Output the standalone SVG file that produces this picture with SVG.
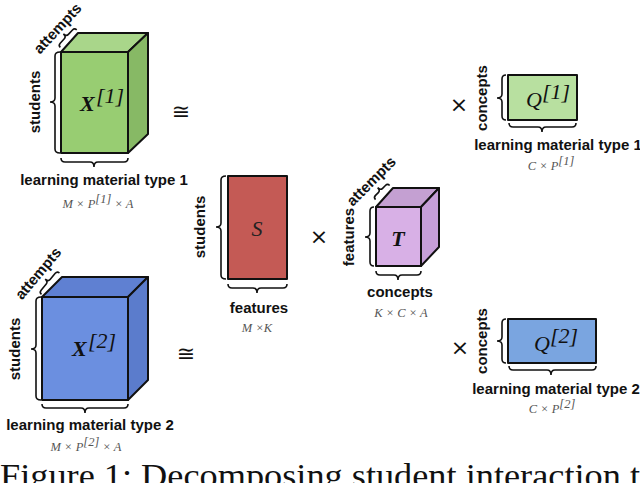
<svg xmlns="http://www.w3.org/2000/svg" width="640" height="483" viewBox="0 0 640 483">
<style>
.e{stroke:#111;stroke-width:2;stroke-linejoin:round}
.br{fill:none;stroke:#111;stroke-width:1.6}
.lb{font-family:"Liberation Sans",Arial,sans-serif;font-weight:bold;font-size:15px;fill:#111}
.fm{font-family:"Liberation Serif","Times New Roman",serif;font-style:italic;font-size:12.5px;fill:#555}
.big{font-family:"Liberation Serif","Times New Roman",serif;font-style:italic;font-size:22px;fill:#111}
.op{font-family:"DejaVu Sans",sans-serif;font-size:22px;fill:#111}
</style>
<rect width="640" height="483" fill="#fff"/>
<g id="X1">
<polygon class="e" points="61,52 78,33 148,33 128,52" fill="#a9d68a"/>
<polygon class="e" points="128,52 148,33 148,134 128,153" fill="#87b965"/>
<rect class="e" x="61" y="52" width="67" height="101" fill="#98cd72"/>
<text class="big" x="80" y="111" font-weight="bold">X</text><text class="big" x="96" y="103">[1]</text>
<path class="br" d="M60,52 Q55,52 55,56 L55,98 Q55,102 50,102 Q55,102 55,106 L55,149 Q55,153 60,153"/>
<text class="lb" transform="translate(40,102) rotate(-90)" text-anchor="middle">students</text>
<path class="br" d="M61,158 Q61,162 65,162 L90,162 Q94,162 94,167 Q94,162 98,162 L124,162 Q128,162 128,158"/>
<text class="lb" x="104" y="185" text-anchor="middle">learning material type  1</text>
<text class="fm" x="98" y="208" text-anchor="middle">M × P<tspan dy="-5">[1]</tspan><tspan dy="5"> × A</tspan></text>
<g transform="translate(70,40) rotate(-47)"><path class="br" d="M-12,-2 Q-12,-5 -9,-5 L-3,-5 Q0,-5 0,-9 Q0,-5 3,-5 L9,-5 Q12,-5 12,-2"/>
<text class="lb" x="0" y="-12" text-anchor="middle" font-size="13">attempts</text></g>
</g>
<g id="X2">
<polygon class="e" points="42,297 62,277 148,277 128,297" fill="#5f80d2"/>
<polygon class="e" points="128,297 148,277 148,380 128,400" fill="#5b7ccc"/>
<rect class="e" x="42" y="297" width="86" height="103" fill="#6b8fe0"/>
<text class="big" x="72" y="356" font-weight="bold">X</text><text class="big" x="88" y="348">[2]</text>
<path class="br" d="M41,297 Q36,297 36,301 L36,345 Q36,349 31,349 Q36,349 36,353 L36,396 Q36,400 41,400"/>
<text class="lb" transform="translate(20,349) rotate(-90)" text-anchor="middle">students</text>
<path class="br" d="M42,404 Q42,408 46,408 L81,408 Q85,408 85,413 Q85,408 89,408 L124,408 Q128,408 128,404"/>
<text class="lb" x="90" y="430" text-anchor="middle">learning material type  2</text>
<text class="fm" x="86" y="451" text-anchor="middle">M × P<tspan dy="-5">[2]</tspan><tspan dy="5"> × A</tspan></text>
<g transform="translate(52,285) rotate(-50)"><path class="br" d="M-14,-2 Q-14,-5 -11,-5 L-3,-5 Q0,-5 0,-9 Q0,-5 3,-5 L11,-5 Q14,-5 14,-2"/>
<text class="lb" x="0" y="-13" text-anchor="middle" font-size="13">attempts</text></g>
</g>
<g id="S">
<rect class="e" x="228" y="176" width="59" height="103" fill="#c45a55"/>
<text class="big" x="257" y="236" text-anchor="middle" style="fill:#222">S</text>
<path class="br" d="M226,176 Q221,176 221,180 L221,223 Q221,227 216,227 Q221,227 221,231 L221,275 Q221,279 226,279"/>
<text class="lb" transform="translate(205,227) rotate(-90)" text-anchor="middle">students</text>
<path class="br" d="M228,284 Q228,288 232,288 L253,288 Q257,288 257,293 Q257,288 261,288 L283,288 Q287,288 287,284"/>
<text class="lb" x="259" y="313" text-anchor="middle">features</text>
<text class="fm" x="257" y="332" text-anchor="middle">M ×K</text>
</g>
<g id="T">
<polygon class="e" points="376,207 393,188 439,188 421,207" fill="#c4a0d2"/>
<polygon class="e" points="421,207 439,188 439,247 421,266" fill="#c69fd8"/>
<rect class="e" x="376" y="207" width="45" height="59" fill="#d8b0e6"/>
<text class="big" x="398" y="246" text-anchor="middle" font-weight="bold">T</text>
<path class="br" d="M374,207 Q370,207 370,211 L370,233 Q370,237 365,237 Q370,237 370,241 L370,262 Q370,266 374,266"/>
<text class="lb" transform="translate(354,237) rotate(-90)" text-anchor="middle">features</text>
<path class="br" d="M376,271 Q376,275 380,275 L394,275 Q398,275 398,280 Q398,275 402,275 L417,275 Q421,275 421,271"/>
<text class="lb" x="400" y="297" text-anchor="middle">concepts</text>
<text class="fm" x="401" y="317" text-anchor="middle">K × C × A</text>
<g transform="translate(384,194) rotate(-45)"><path class="br" d="M-10,-2 Q-10,-5 -7,-5 L-3,-5 Q0,-5 0,-9 Q0,-5 3,-5 L7,-5 Q10,-5 10,-2"/>
<text class="lb" x="0" y="-13" text-anchor="middle" font-size="13">attempts</text></g>
</g>
<g id="Q1">
<rect class="e" x="508" y="75" width="69" height="45" fill="#b8e0a0" stroke-width="1.6"/>
<text class="big" x="526" y="107">Q</text><text class="big" x="542" y="99">[1]</text>
<path class="br" d="M506,75 Q502,75 502,79 L502,94 Q502,98 497,98 Q502,98 502,102 L502,116 Q502,120 506,120"/>
<text class="lb" transform="translate(487,98) rotate(-90)" text-anchor="middle">concepts</text>
<path class="br" d="M509,123 Q509,127 513,127 L538,127 Q542,127 542,132 Q542,127 546,127 L572,127 Q576,127 576,123"/>
<text class="lb" x="558" y="150" text-anchor="middle">learning material type  1</text>
<text class="fm" x="551" y="170" text-anchor="middle">C × P<tspan dy="-5">[1]</tspan></text>
</g>
<g id="Q2">
<rect class="e" x="508" y="319" width="88" height="44" fill="#7aa5e0" stroke-width="1.6"/>
<text class="big" x="534" y="351">Q</text><text class="big" x="550" y="343">[2]</text>
<path class="br" d="M506,319 Q502,319 502,323 L502,337 Q502,341 497,341 Q502,341 502,345 L502,359 Q502,363 506,363"/>
<text class="lb" transform="translate(487,341) rotate(-90)" text-anchor="middle">concepts</text>
<path class="br" d="M509,366 Q509,370 513,370 L547,370 Q551,370 551,375 Q551,370 555,370 L592,370 Q596,370 596,366"/>
<text class="lb" x="556" y="394" text-anchor="middle">learning material type  2</text>
<text class="fm" x="552" y="413" text-anchor="middle">C × P<tspan dy="-5">[2]</tspan></text>
</g>
<g id="connectors">
<text class="op" x="181" y="119" text-anchor="middle" font-size="34">≅</text>
<text class="op" x="186" y="361" text-anchor="middle" font-size="34">≅</text>
<text class="op" x="319" y="244" text-anchor="middle">×</text>
<text class="op" x="459" y="112" text-anchor="middle">×</text>
<text class="op" x="460" y="355" text-anchor="middle">×</text>
</g>
<text x="0" y="487" font-family="'Liberation Serif','Times New Roman',serif" font-size="34" fill="#111" textLength="640" lengthAdjust="spacingAndGlyphs">Figure 1: Decomposing student interaction t</text>
</svg>
